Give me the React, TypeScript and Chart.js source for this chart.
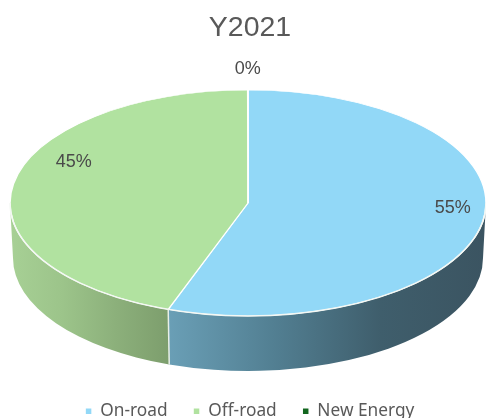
import React, { useEffect, useRef } from "react";
import { Chart, registerables } from "chart.js";

Chart.register(...registerables);

const categories = ["On-road", "Off-road", "New Energy"];
const shares = [55.44, 44.54, 0.02];
const topColors = ["#92d8f7", "#b1e2a0", "#12661f"];
const wallStops = [
  ["#6a9fb6", "#527f92", "#3f5e6c", "#3b5461"],
  ["#a7d095", "#9cc48a", "#8cb07b", "#7d9e6d"],
  ["#12661f", "#12661f", "#12661f", "#12661f"],
];
const labelReach = [0.873, 0.743, 1.186];
const labelLift = [-12, -27, 0];

const CX = 248;
const CY = 203;
const RX = 238;
const RY = 113;
const DEPTH = 55;

const pie3d = {
  id: "pie3d",
  beforeDatasetsDraw(chart: any) {
    const { ctx } = chart;
    const arcs = chart.getDatasetMeta(0).data;
    ctx.save();
    arcs.forEach((arc: any, i: number) => {
      const lo = Math.max(arc.startAngle, 0);
      const hi = Math.min(arc.endAngle, Math.PI);
      if (hi <= lo) return;
      const xa = CX + RX * Math.cos(hi);
      const xb = CX + RX * Math.cos(lo);
      const g = ctx.createLinearGradient(xa, 0, xb, 0);
      wallStops[i].forEach((c, k) => g.addColorStop(k / 3, c));
      ctx.beginPath();
      ctx.ellipse(CX, CY, RX, RY, 0, lo, hi);
      ctx.ellipse(CX, CY + DEPTH, RX - 3, RY, 0, hi, lo, true);
      ctx.closePath();
      ctx.fillStyle = g;
      ctx.fill();
    });
    arcs.forEach((arc: any) => {
      const a = arc.endAngle;
      if (a <= 0 || a >= Math.PI) return;
      const x = CX + RX * Math.cos(a);
      const y = CY + RY * Math.sin(a);
      ctx.beginPath();
      ctx.moveTo(x, y);
      ctx.lineTo(CX + (RX - 3) * Math.cos(a), y + DEPTH);
      ctx.strokeStyle = "#e8efe8";
      ctx.lineWidth = 1.5;
      ctx.stroke();
    });
    ctx.restore();

    const first = arcs[0];
    ctx.save();
    ctx.translate(CX, CY);
    ctx.scale(RX / first.outerRadius, RY / first.outerRadius);
    ctx.translate(-first.x, -first.y);
  },
  afterDatasetsDraw(chart: any) {
    const { ctx } = chart;
    ctx.restore();
    const arcs = chart.getDatasetMeta(0).data;
    ctx.save();
    ctx.beginPath();
    ctx.ellipse(CX, CY, RX, RY, 0, 0, Math.PI);
    ctx.strokeStyle = "#f4f8f4";
    ctx.lineWidth = 1.5;
    ctx.stroke();
    ctx.font = '18px "Liberation Sans"';
    ctx.fillStyle = "#4a4a4a";
    ctx.textAlign = "center";
    ctx.textBaseline = "middle";
    arcs.forEach((arc: any, i: number) => {
      const mid = (arc.startAngle + arc.endAngle) / 2;
      const x = CX + RX * labelReach[i] * Math.cos(mid);
      const y = CY + RY * labelReach[i] * Math.sin(mid) + labelLift[i];
      ctx.fillText(`${Math.round(shares[i])}%`, x, y);
    });
    ctx.restore();
  },
};

export default function App() {
  const ref = useRef<HTMLCanvasElement>(null);
  useEffect(() => {
    const chart = new Chart(ref.current!, {
      type: "pie",
      data: {
        labels: categories,
        datasets: [
          {
            data: shares,
            backgroundColor: topColors,
            borderColor: "#ffffff",
            borderWidth: 1.5,
            radius: RX,
          } as any,
        ],
      },
      plugins: [pie3d],
      options: {
        responsive: false,
        animation: false,
        layout: { padding: { bottom: -12, left: 14 } },
        plugins: {
          tooltip: { enabled: false },
          title: {
            display: true,
            text: "Y2021",
            color: "#595959",
            font: { family: '"Liberation Sans"', size: 28.5, weight: "normal" },
            padding: { top: 11, bottom: 8 },
          },
          legend: {
            position: "bottom",
            labels: {
              usePointStyle: true,
              pointStyle: "rect",
              boxWidth: 6,
              boxHeight: 7,
              color: "#595959",
              font: { family: '"Noto Sans"', size: 17.3 },
              padding: 26,
            },
          },
        },
      },
    } as any);
    return () => chart.destroy();
  }, []);
  return (
    <div style={{ position: "fixed", left: 0, top: 0, width: 486, height: 418, background: "#fff" }}>
      <canvas ref={ref} width={486} height={418} style={{ display: "block" }} />
    </div>
  );
}
